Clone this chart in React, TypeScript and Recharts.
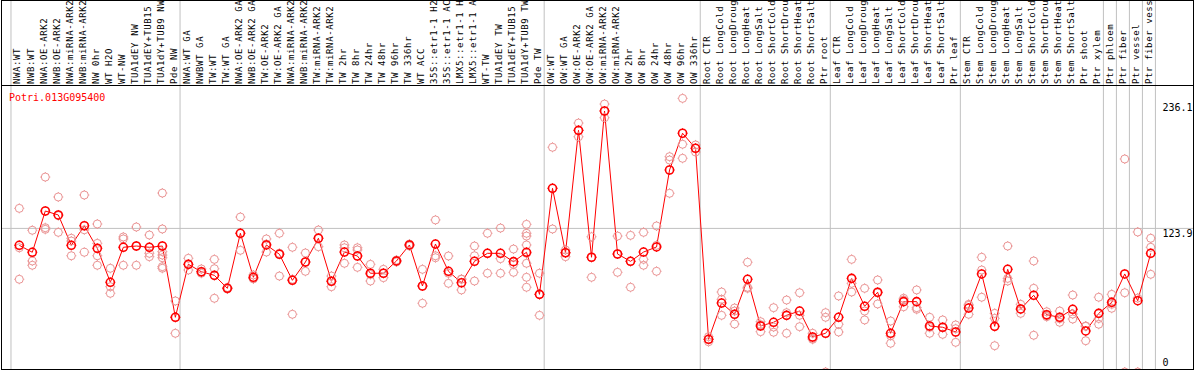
import React from 'react';
import { ComposedChart, Line, Scatter, XAxis, YAxis, ReferenceLine } from 'recharts';

const geneId = 'Potri.013G095400';

const categories = [
  'NWA:WT', 'NWB:WT', 'NWA:OE-ARK2', 'NWB:OE-ARK2', 'NWA:miRNA-ARK2', 'NWB:miRNA-ARK2',
  'NW 0hr', 'WT H2O', 'WT-NW', 'TUA1dEY NW', 'TUA1dEY+TUB15 NW', 'TUA1dY+TUB9 NW', 'Pde NW',
  'NWA:WT GA', 'NWBWT GA', 'TW:WT', 'TW:WT GA', 'NWA:OE-ARK2 GA', 'NWB:OE-ARK2 GA',
  'TW:OE-ARK2', 'TW:OE-ARK2 GA', 'NWA:miRNA-ARK2 GA', 'NWB:miRNA-ARK2 GA', 'TW:miRNA-ARK2',
  'TW:miRNA-ARK2 GA', 'TW 2hr', 'TW 8hr', 'TW 24hr', 'TW 48hr', 'TW 96hr', 'TW 336hr',
  'WT ACC', '35S::etr1-1 H2O', '35S::etr1-1 ACC', 'LMX5::etr1-1 H2O', 'LMX5::etr1-1 ACC',
  'WT-TW', 'TUA1dEY TW', 'TUA1dEY+TUB15 TW', 'TUA1dY+TUB9 TW', 'Pde TW',
  'OW:WT', 'OW:WT GA', 'OW:OE-ARK2', 'OW:OE-ARK2 GA', 'OW:miRNA-ARK2', 'OW:miRNA-ARK2 GA',
  'OW 2hr', 'OW 8hr', 'OW 24hr', 'OW 48hr', 'OW 96hr', 'OW 336hr',
  'Root CTR', 'Root LongCold', 'Root LongDrought', 'Root LongHeat', 'Root LongSalt',
  'Root ShortCold', 'Root ShortDrought', 'Root ShortHeat', 'Root ShortSalt', 'Ptr root',
  'Leaf CTR', 'Leaf LongCold', 'Leaf LongDrought', 'Leaf LongHeat', 'Leaf LongSalt',
  'Leaf ShortCold', 'Leaf ShortDrought', 'Leaf ShortHeat', 'Leaf ShortSalt', 'Ptr leaf',
  'Stem CTR', 'Stem LongCold', 'Stem LongDrought', 'Stem LongHeat', 'Stem LongSalt',
  'Stem ShortCold', 'Stem ShortDrought', 'Stem ShortHeat', 'Stem ShortSalt', 'Ptr shoot',
  'Ptr xylem', 'Ptr phloem', 'Ptr fiber', 'Ptr vessel', 'Ptr fiber vessel',
];

// sizes of the experiment blocks, separated by the grey vertical rules
const groupSizes = [13, 28, 12, 10, 10, 11, 1, 1, 1, 1];

const means = [
  109.3, 103.3, 138.9, 135.5, 109.3, 126.2, 106.7, 77.4, 107.6, 108.7,
  107.6, 108.7, 47.2, 92.9, 86.5, 83.4, 72.2, 119.7, 81.7, 109.6,
  101.6, 79.1, 94.9, 115.4, 78.3, 103.5, 100.1, 85.2, 85.2, 95.8,
  109.6, 74.2, 110.4, 86.9, 77.0, 95.5, 102.4, 102.4, 95.2, 103.3,
  67.0, 158.5, 102.9, 208.5, 99.0, 225.2, 101.8, 95.5, 103.5, 107.9,
  174.3, 206.0, 193.0, 28.2, 59.5, 49.8, 80.0, 39.7, 42.9, 48.9,
  52.6, 30.2, 33.4, 47.2, 80.8, 56.7, 68.8, 33.4, 60.7, 60.7,
  39.7, 38.6, 34.5, 55.2, 84.6, 39.4, 88.6, 54.4, 66.2, 49.4,
  47.2, 54.1, 35.4, 50.6, 60.1, 84.6, 61.5, 102.4,
];

const samples: number[][] = [
  [141.2, 107.2, 80.0], [122.3, 95.8, 92.1], [168.2, 124.5, 123.1], [151.0, 134.9, 120.5],
  [115.4, 113.0, 100.3], [152.7, 122.7, 103.3], [127.7, 111.0, 100.3, 92.1], [89.5, 73.6, 67.9],
  [116.5, 114.8, 92.1], [125.1, 108.7, 92.1], [118.2, 107.6, 102.4, 99.5],
  [154.4, 123.4, 103.8, 100.9, 98.6, 90.9, 89.5], [61.3, 47.2, 33.4],
  [98.1, 92.9, 88.0], [88.9, 86.5, 85.2], [97.2, 89.1, 63.6], [72.9, 72.2, 71.6],
  [133.7, 119.7, 105.0], [83.7, 80.5, 80.5], [114.8, 110.4, 103.5], [119.7, 102.4, 82.8],
  [107.6, 80.0, 49.8], [102.7, 94.9, 86.9], [122.5, 115.4, 108.1], [82.8, 78.3, 73.6],
  [109.6, 107.2, 93.8], [107.2, 105.3, 90.3], [92.9, 84.1, 78.5], [88.6, 85.2, 81.4],
  [96.6, 95.8, 94.9], [110.4, 109.6, 108.7], [88.6, 74.2, 59.3], [131.2, 100.3, 98.6],
  [100.1, 85.2, 76.5], [80.2, 80.0, 70.8], [108.7, 100.3, 78.5], [119.7, 102.4, 85.2],
  [124.2, 97.8, 85.2], [106.1, 92.9, 86.0],
  [127.4, 119.7, 117.3, 109.6, 102.4, 93.8, 81.7, 73.1], [85.2, 67.0, 48.9],
  [193.9, 158.5, 123.4], [105.3, 102.9, 99.5], [214.8, 208.5, 203.0], [116.7, 99.0, 81.7],
  [231.2, 225.2, 219.4], [117.3, 101.8, 86.0], [117.9, 95.5, 73.1], [120.5, 97.2, 92.1],
  [126.0, 109.3, 86.9], [185.8, 182.9, 154.2], [236.1, 196.5, 184.4], [195.9, 193.0, 189.8],
  [30.5, 28.2, 26.1], [69.0, 62.7, 48.9], [55.2, 52.6, 41.4], [94.7, 73.1, 72.2],
  [43.4, 40.9, 34.8], [55.5, 38.8, 34.3], [62.1, 51.2, 33.4], [68.4, 48.9, 39.1],
  [33.4, 29.0, 28.2], [51.2, 47.2, 0],
  [65.6, 41.2, 34.5], [97.2, 76.5, 69.0], [72.2, 52.6, 44.9], [79.4, 68.2, 58.7],
  [44.0, 31.3, 24.8], [63.6, 62.1, 56.3], [70.8, 55.5, 54.1], [47.2, 38.5, 33.4],
  [44.9, 38.2, 32.5], [40.6, 37.4, 25.6],
  [58.4, 57.5, 49.8], [99.0, 88.0, 64.5], [50.6, 46.3, 22.7], [108.7, 80.8, 78.5],
  [58.4, 54.0, 50.6], [95.8, 72.2, 31.7], [52.0, 48.6, 47.7], [52.6, 46.0, 42.9],
  [66.4, 50.0, 45.7], [39.7, 39.4, 27.0], [64.5, 46.2, 41.2],
  [67.0, 58.4, 55.0], [183.8, 68.4, 0], [120.8, 63.8, 0], [115.4, 107.6, 84.3],
];

const scaleTicks = [0, 123.9, 236.1];
const midLine = 123.9;

const meanData = categories.map((name, i) => ({ i, name, mean: means[i] }));
const sampleData = samples.flatMap((vals, i) => vals.map((v) => ({ i, v })));
const boundaries = groupSizes.reduce((acc, n) => [...acc, acc[acc.length - 1] + n], [0]);

const RED = '#ff0000';
const PINK = '#ea9494';
const GRID = '#c0c0c0';
const MONO = '"DejaVu Sans Mono", monospace';

function Ring({ cx, cy, color, width }: { cx?: number; cy?: number; color: string; width: number }) {
  if (cx == null || cy == null) return null;
  return (
    <g>
      <circle cx={cx} cy={cy} r={4} fill="none" stroke={color} strokeWidth={width} />
      <path
        d={`M${cx} ${cy - 5}v1M${cx} ${cy + 4}v1M${cx - 5} ${cy}h1M${cx + 4} ${cy}h1`}
        stroke={color}
        strokeWidth={1}
      />
    </g>
  );
}

function CategoryTick(props: any) {
  const { x, payload } = props;
  return (
    <text
      transform={`translate(${x + 1.2},84) rotate(-90)`}
      fontFamily={MONO}
      fontSize={9}
      letterSpacing={0.6}
      fill="#000"
    >
      {categories[payload.value]}
    </text>
  );
}

// baseline shift of each scale value relative to its own position
function scaleDy(value: number) {
  if (value === 0) return -6;
  return value > 200 ? 12.6 : 8.3;
}

function ScaleTick(props: any) {
  const { y, payload } = props;
  return (
    <text x={1162.5} y={y + scaleDy(payload.value)} fontFamily={MONO} fontSize={10} fill="#000">
      {payload.value}
    </text>
  );
}

export default function App() {
  return (
    <div style={{ position: 'relative', width: 1194, height: 370, overflow: 'hidden', background: '#fff' }}>
      <style>{'body{margin:0}'}</style>
      <ComposedChart width={1194} height={372} data={meanData} margin={{ top: 0, right: 1, bottom: 0, left: 2 }}>
        <XAxis
          type="number"
          dataKey="i"
          domain={[-1.33, 90.25]}
          allowDataOverflow
          ticks={categories.map((_, i) => i)}
          interval={0}
          orientation="top"
          mirror
          axisLine={false}
          tickLine={false}
          tick={CategoryTick}
        />
        <YAxis
          type="number"
          domain={[0, 320.97]}
          allowDataOverflow
          orientation="right"
          mirror
          ticks={scaleTicks}
          interval={0}
          axisLine={false}
          tickLine={false}
          tick={ScaleTick}
        />
        {boundaries.map((b) => (
          <ReferenceLine key={b} x={b - 0.64} stroke={GRID} strokeWidth={1} />
        ))}
        <ReferenceLine y={midLine} stroke={GRID} strokeWidth={1} />
        <Scatter
          data={sampleData}
          dataKey="v"
          isAnimationActive={false}
          shape={(p: any) => <Ring cx={p.cx} cy={p.cy} color={PINK} width={1} />}
        />
        <Line
          dataKey="mean"
          stroke={RED}
          strokeWidth={1}
          isAnimationActive={false}
          activeDot={false}
          dot={(p: any) => <Ring key={p.index} cx={p.cx} cy={p.cy} color={RED} width={1.6} />}
        />
      </ComposedChart>
      <svg
        width={1194}
        height={370}
        style={{ position: 'absolute', left: 0, top: 0, pointerEvents: 'none' }}
        shapeRendering="crispEdges"
      >
        <text x={9} y={101} fontFamily={MONO} fontSize={10} fill={RED} shapeRendering="auto">
          {geneId}
        </text>
        <rect x={1.5} y={0.5} width={1192} height={369} fill="none" stroke="#000" />
        <line x1={1} x2={1194} y1={85.5} y2={85.5} stroke="#000" />
      </svg>
    </div>
  );
}
